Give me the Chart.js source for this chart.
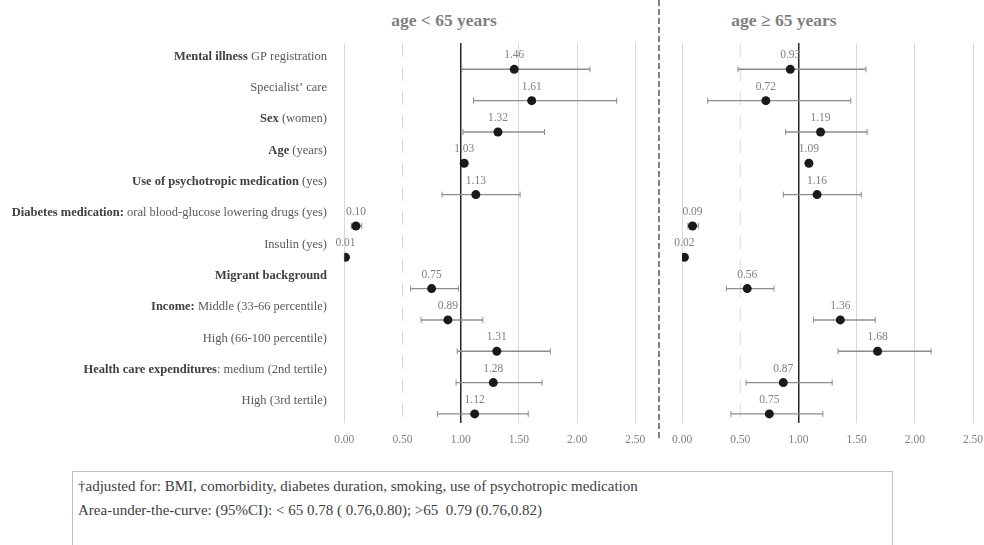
<!DOCTYPE html>
<html><head><meta charset="utf-8">
<script src="https://cdn.jsdelivr.net/npm/chart.js@4.4.1/dist/chart.umd.min.js"></script>
<style>
body{margin:0;background:#fff;width:984px;height:545px;overflow:hidden;position:relative;font-family:"Liberation Serif","Times New Roman",serif;}
canvas{position:absolute;top:0;}
#c1{left:0;}
#c2{left:662px;}
.title{position:absolute;top:8px;font-size:17.5px;font-weight:bold;color:#7f7f7f;transform:translateX(-50%);white-space:nowrap;line-height:24px;}
#note{position:absolute;left:72px;top:471px;width:814px;height:100px;border:1.5px solid #bfbfbf;padding:2px 0 0 5px;color:#404040;font-size:15px;line-height:24px;box-sizing:content-box;white-space:pre;}
</style>
</head><body>
<div class="title" style="left:444px">age &lt; 65 years</div>
<div class="title" style="left:784px">age ≥ 65 years</div>
<canvas id="c1" width="662" height="460"></canvas>
<canvas id="c2" width="340" height="460"></canvas>
<div id="note">†adjusted for: BMI, comorbidity, diabetes duration, smoking, use of psychotropic medication
Area-under-the-curve: (95%CI): &lt; 65 0.78 ( 0.76,0.80); &gt;65  0.79 (0.76,0.82)</div>
<script>
// ---- data ----
const labelBold = ["Mental illness","","Sex","Age","Use of psychotropic medication","Diabetes medication:","","Migrant background","Income:","","Health care expenditures",""];
const labelRest = [" GP registration","Specialist’ care"," (women)"," (years)"," (yes)"," oral blood-glucose lowering drugs (yes)","Insulin (yes)",""," Middle (33-66 percentile)","High (66-100 percentile)",": medium (2nd tertile)","High (3rd tertile)"];

const orYoung   = [1.46,1.61,1.32,1.03,1.13,0.10,0.01,0.75,0.89,1.31,1.28,1.12];
const loYoung   = [1.01,1.11,1.02,1.02,0.84,0.06,0.00,0.57,0.66,0.97,0.96,0.80];
const hiYoung   = [2.11,2.34,1.72,1.04,1.51,0.15,0.02,0.98,1.19,1.77,1.70,1.58];

const orOld     = [0.93,0.72,1.19,1.09,1.16,0.09,0.02,0.56,1.36,1.68,0.87,0.75];
const loOld     = [0.48,0.22,0.89,1.08,0.87,0.05,0.01,0.38,1.13,1.34,0.55,0.42];
const hiOld     = [1.58,1.45,1.59,1.10,1.54,0.14,0.03,0.79,1.66,2.14,1.29,1.21];

const xTicks = [0,0.5,1,1.5,2,2.5];

const SERIF = '"Liberation Serif","Times New Roman",serif';

function makePlugins(lo, hi, withLabels) {
  return [{
    id: 'forest',
    beforeDatasetsDraw(chart) {
      const {ctx, scales:{x,y}, chartArea:a} = chart;
      ctx.save();
      const xp = x.getPixelForValue(0.5);
      ctx.strokeStyle = '#d9d9d9'; ctx.lineWidth = 1;
      ctx.setLineDash([14,10]);
      ctx.beginPath(); ctx.moveTo(xp, a.top); ctx.lineTo(xp, a.bottom); ctx.stroke();
      ctx.setLineDash([]);
      ctx.strokeStyle = '#8c8c8c';
      for (let i = 0; i < lo.length; i++) {
        const yp = y.getPixelForValue(i);
        const x1 = x.getPixelForValue(lo[i]), x2 = x.getPixelForValue(hi[i]);
        ctx.lineWidth = 1.4;
        ctx.beginPath(); ctx.moveTo(x1, yp); ctx.lineTo(x2, yp); ctx.stroke();
        ctx.lineWidth = 1;
        ctx.beginPath();
        ctx.moveTo(x1, yp-3); ctx.lineTo(x1, yp+3);
        ctx.moveTo(x2, yp-3); ctx.lineTo(x2, yp+3);
        ctx.stroke();
      }
      ctx.restore();
    },
    afterDatasetsDraw(chart) {
      const {ctx} = chart;
      const meta = chart.getDatasetMeta(0);
      const data = chart.data.datasets[0].data;
      ctx.save();
      ctx.font = '11.5px ' + SERIF;
      ctx.fillStyle = '#7f7f7f';
      ctx.textAlign = 'center'; ctx.textBaseline = 'middle';
      meta.data.forEach((el, i) => {
        ctx.fillText(data[i].x.toFixed(2), el.x, el.y - 14);
      });
      ctx.restore();
    },
    afterDraw(chart) {
      const {ctx, scales:{y}} = chart;
      ctx.save();
      if (withLabels) {
        ctx.textBaseline = 'middle';
        for (let i = 0; i < labelBold.length; i++) {
          const yp = y.getPixelForValue(i) - 13;
          ctx.font = 'bold 12.5px ' + SERIF;
          const wb = ctx.measureText(labelBold[i]).width;
          ctx.font = '12.5px ' + SERIF;
          const wr = ctx.measureText(labelRest[i]).width;
          let xs = 327 - wb - wr;
          ctx.textAlign = 'left';
          ctx.font = 'bold 12.5px ' + SERIF; ctx.fillStyle = '#404040';
          ctx.fillText(labelBold[i], xs, yp);
          ctx.font = '12.5px ' + SERIF; ctx.fillStyle = '#595959';
          ctx.fillText(labelRest[i], xs + wb, yp);
        }
        ctx.strokeStyle = '#595959'; ctx.lineWidth = 1.5;
        ctx.setLineDash([6,3]);
        ctx.beginPath(); ctx.moveTo(659, 0); ctx.lineTo(659, 438); ctx.stroke();
      }
      ctx.restore();
    }
  }];
}

function makeChart(id, ors, lo, hi, padL, padR, withLabels) {
  return new Chart(document.getElementById(id), {
    type: 'scatter',
    data: { datasets: [{
      data: ors.map((v, i) => ({x: v, y: i})),
      pointRadius: 4.5, pointHoverRadius: 4.5,
      backgroundColor: '#1a1a1a', borderWidth: 0
    }]},
    options: {
      responsive: false, animation: false,
      layout: { padding: { left: padL, right: padR, top: 43, bottom: 0 } },
      plugins: { legend: {display:false}, tooltip: {enabled:false} },
      scales: {
        x: {
          type: 'linear', min: 0, max: 2.5,
          afterBuildTicks: s => { s.ticks = xTicks.map(v => ({value: v})); },
          afterFit: s => { s.height = 37; },
          border: { display: false },
          grid: {
            drawTicks: false,
            color: c => c.tick && c.tick.value === 1 ? '#262626' : (c.tick && c.tick.value === 0.5 ? 'rgba(0,0,0,0)' : '#d9d9d9'),
            lineWidth: c => c.tick && c.tick.value === 1 ? 1.5 : 1
          },
          ticks: { padding: 10, color: '#7f7f7f', font: { family: SERIF, size: 11.5 },
                   callback: v => Number(v).toFixed(2), maxRotation: 0, autoSkip: false }
        },
        y: { type: 'linear', reverse: true, min: -0.84, max: 11.29, display: false }
      }
    },
    plugins: makePlugins(lo, hi, withLabels)
  });
}

makeChart('c1', orYoung, loYoung, hiYoung, 344.3, 662 - 635.3, true);
makeChart('c2', orOld, loOld, hiOld, 20, 340 - 311, false);
</script>
</body></html>
